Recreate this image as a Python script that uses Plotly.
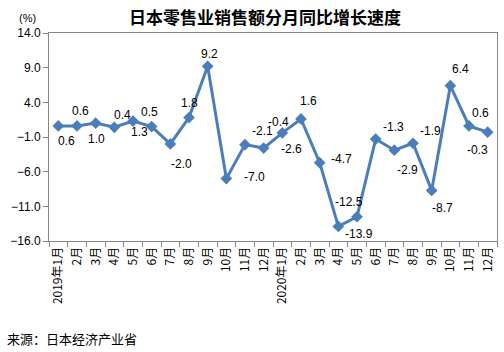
import plotly.graph_objects as go

months = ["2019年1月", "2月", "3月", "4月", "5月", "6月", "7月", "8月", "9月", "10月", "11月", "12月",
          "2020年1月", "2月", "3月", "4月", "5月", "6月", "7月", "8月", "9月", "10月", "11月", "12月"]
categories = [f"{i:02d}|{m}" for i, m in enumerate(months)]
values = [0.6, 0.6, 1.0, 0.4, 1.3, 0.5, -2.0, 1.8, 9.2, -7.0, -2.1, -2.6,
          -0.4, 1.6, -4.7, -13.9, -12.5, -1.3, -2.9, -1.9, -8.7, 6.4, 0.6, -0.3]
# label offsets in pixels (dx right, dy down)
label_dx = [8, 3, 1, 8, 6, -2, 11, 0, 2, 28, 17, 28, -4, 7, 22, 21, -8, 18, 13, 17, 11, 10, 11, -10]
label_dy = [15, -15, 16, -12, 11, -15, 20, -15, -12, -2, -14, 1, -11, -18, -4, 8, -15, -12, 20, -12, 18, -17, -13, 18]

font_main = "Liberation Sans, Noto Sans CJK SC, sans-serif"
line_color = "#4A7EBB"

fig = go.Figure()
fig.add_trace(go.Scatter(
    x=categories, y=values, mode="lines+markers",
    line=dict(color=line_color, width=3),
    marker=dict(symbol="diamond", size=9, color=line_color),
    hoverinfo="skip", showlegend=False,
))

annotations = []
for c, v, dx, dy in zip(categories, values, label_dx, label_dy):
    annotations.append(dict(x=c, y=v, xref="x", yref="y", text=f"{v:.1f}", showarrow=False,
                            xshift=dx, yshift=-dy, font=dict(size=12, color="#000000", family=font_main)))

annotations.append(dict(x=265, y=16, text="<b>日本零售业销售额分月同比增长速度</b>",
                        showarrow=False, xanchor="center",
                        font=dict(size=17, color="#000000", family="Noto Sans CJK SC")))
annotations.append(dict(text="(%)", x=27, y=18, showarrow=False, xanchor="center",
                        font=dict(size=11, color="#000000", family=font_main)))
annotations.append(dict(text="来源：日本经济产业省", x=5, y=338, showarrow=False, xanchor="left",
                        font=dict(size=13, color="#000000", family="Noto Sans CJK SC")))

# convert pixel-positioned layout annotations to paper coords
W, H = 504, 352
ml, mr, mt, mb = 49, 7, 33, 111
pw, ph = W - ml - mr, H - mt - mb
for a in annotations[len(categories):]:
    px, py = a["x"], a["y"]
    a["xref"] = "paper"
    a["yref"] = "paper"
    a["yanchor"] = "middle"
    a["x"] = (px - ml) / pw
    a["y"] = 1 - (py - mt) / ph

fig.update_layout(
    width=W, height=H,
    margin=dict(l=ml, r=mr, t=mt, b=mb, pad=0),
    paper_bgcolor="white", plot_bgcolor="white",
    font=dict(family=font_main, size=12, color="#000000"),
    annotations=annotations,
    xaxis=dict(
        type="category", tickson="boundaries", ticks="outside", ticklen=5, tickcolor="#868686",
        showline=True, linecolor="#868686", linewidth=1, mirror=True, showgrid=False,
        tickangle=-90, tickfont=dict(size=12, family="Noto Sans CJK SC"),
        tickvals=categories, ticktext=months,
        range=[-0.5, len(categories) - 0.5],
    ),
    yaxis=dict(
        range=[-16, 14], dtick=5, tick0=-16, tickformat=".1f", ticks="outside", ticklen=5,
        tickcolor="#868686", showline=True, linecolor="#868686", linewidth=1, mirror=True,
        showgrid=False, zeroline=False, tickfont=dict(size=12),
    ),
)

fig.write_html("out.html")
